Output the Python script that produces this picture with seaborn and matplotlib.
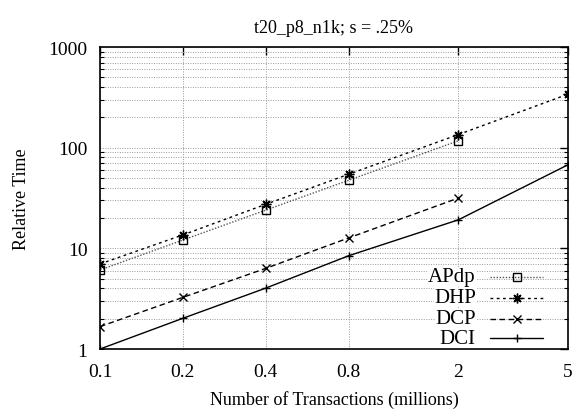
import matplotlib
matplotlib.use("Agg")
import matplotlib.pyplot as plt
import matplotlib.ticker as mticker
from matplotlib.lines import Line2D
import numpy as np
import pandas as pd
import seaborn as sns

# Transactions (millions)
x_apdp = [0.1, 0.2, 0.4, 0.8, 2]
apdp = [6.1, 12.1, 24.0, 47.5, 117]

x_dhp = [0.1, 0.2, 0.4, 0.8, 2, 5]
dhp = [7.0, 13.6, 27.4, 54.5, 135, 340]

x_dcp = [0.1, 0.2, 0.4, 0.8, 2]
dcp = [1.67, 3.26, 6.33, 12.7, 31.6]

x_dci = [0.1, 0.2, 0.4, 0.8, 2, 5]
dci = [1.0, 2.02, 4.03, 8.45, 19.2, 67.6]

series_names = ["APdp", "DHP", "DCP", "DCI"]
x_ticks = [0.1, 0.2, 0.4, 0.8, 2, 5]
x_tick_labels = ["0.1", "0.2", "0.4", "0.8", "2", "5"]
y_ticks = [1, 10, 100, 1000]
y_tick_labels = ["1", "10", "100", "1000"]

sns.set_theme(style="white")
plt.rcParams["font.family"] = ["Liberation Serif", "DejaVu Serif"]

styles = {
    "APdp": dict(color="#555555", ls=(0, (1, 1.2)), marker="s", mfc="none", mec="black", ms=6, mew=1.0),
    "DHP": dict(color="black", ls=(0, (2, 2.5)), marker=(8, 2, 0), mfc="black", mec="black", ms=7, mew=1.0),
    "DCP": dict(color="black", ls=(0, (4, 2.5)), marker="x", mfc="black", mec="black", ms=6, mew=1.0),
    "DCI": dict(color="black", ls="-", marker="+", mfc="black", mec="black", ms=6, mew=1.0),
}

frames = []
for name, xs, ys in [("APdp", x_apdp, apdp), ("DHP", x_dhp, dhp),
                     ("DCP", x_dcp, dcp), ("DCI", x_dci, dci)]:
    frames.append(pd.DataFrame({"x": xs, "y": ys, "series": name}))
df = pd.concat(frames, ignore_index=True)

fig = plt.figure(figsize=(5.74, 4.10), dpi=100)
ax = fig.add_axes([0.1742, 0.1463, 0.8153, 0.7366])

for name in series_names:
    st = styles[name]
    sub = df[df["series"] == name]
    sns.lineplot(data=sub, x="x", y="y", ax=ax, color=st["color"], linestyle=st["ls"],
                 linewidth=1.0, marker=st["marker"], markersize=st["ms"],
                 markerfacecolor=st["mfc"], markeredgecolor=st["mec"],
                 markeredgewidth=st["mew"], legend=False, zorder=3)

ax.set_xscale("log")
ax.set_yscale("log")
ax.set_xlim(0.1, 5)
ax.set_ylim(1, 1000)

ax.xaxis.set_major_locator(mticker.FixedLocator(x_ticks))
ax.xaxis.set_major_formatter(mticker.FixedFormatter(x_tick_labels))
ax.xaxis.set_minor_locator(mticker.NullLocator())
ax.yaxis.set_major_locator(mticker.FixedLocator(y_ticks))
ax.yaxis.set_major_formatter(mticker.FixedFormatter(y_tick_labels))
ax.yaxis.set_minor_locator(mticker.LogLocator(base=10, subs=np.arange(2, 10)))
ax.yaxis.set_minor_formatter(mticker.NullFormatter())

ax.grid(True, which="major", axis="both", color="#999999", linestyle=(0, (1, 1.5)), linewidth=0.7)
ax.grid(True, which="minor", axis="y", color="#999999", linestyle=(0, (1, 1.5)), linewidth=0.7)

ax.tick_params(axis="both", which="major", direction="in", length=6, width=1,
               top=True, right=True, labelsize=14, color="black", labelcolor="black")
ax.tick_params(axis="x", which="major", pad=10)
ax.tick_params(axis="y", which="major", pad=9)
ax.tick_params(axis="y", which="minor", direction="in", length=3, width=0.8,
               left=True, right=True, color="black")
for sp in ax.spines.values():
    sp.set_color("black")
    sp.set_linewidth(1.2)
    sp.set_zorder(10)

ax.set_xlabel("Number of Transactions (millions)", fontsize=13, labelpad=7, color="black")
ax.set_ylabel("Relative Time", fontsize=13, labelpad=13, color="black")
ax.set_title("t20_p8_n1k; s = .25%", fontsize=13, pad=11, color="black")

# Key in lower right: right-aligned labels with line samples after them
key_y = [0.24, 0.17, 0.10, 0.036]
for name, yk in zip(series_names, key_y):
    st = styles[name]
    ax.text(0.803, yk, name, transform=ax.transAxes, ha="right", va="center",
            fontsize=15, color="black", zorder=5,
            bbox=dict(facecolor="white", edgecolor="none", pad=0.2))
    ax.add_line(Line2D([0.833, 0.947], [yk, yk], transform=ax.transAxes,
                       color=st["color"], linestyle=st["ls"], linewidth=1.0, zorder=5))
    ax.add_line(Line2D([0.891], [yk], transform=ax.transAxes, marker=st["marker"],
                       markersize=st["ms"], markerfacecolor=st["mfc"],
                       markeredgecolor=st["mec"], markeredgewidth=st["mew"],
                       linestyle="none", zorder=6))

fig.savefig("out.png", dpi=100)
